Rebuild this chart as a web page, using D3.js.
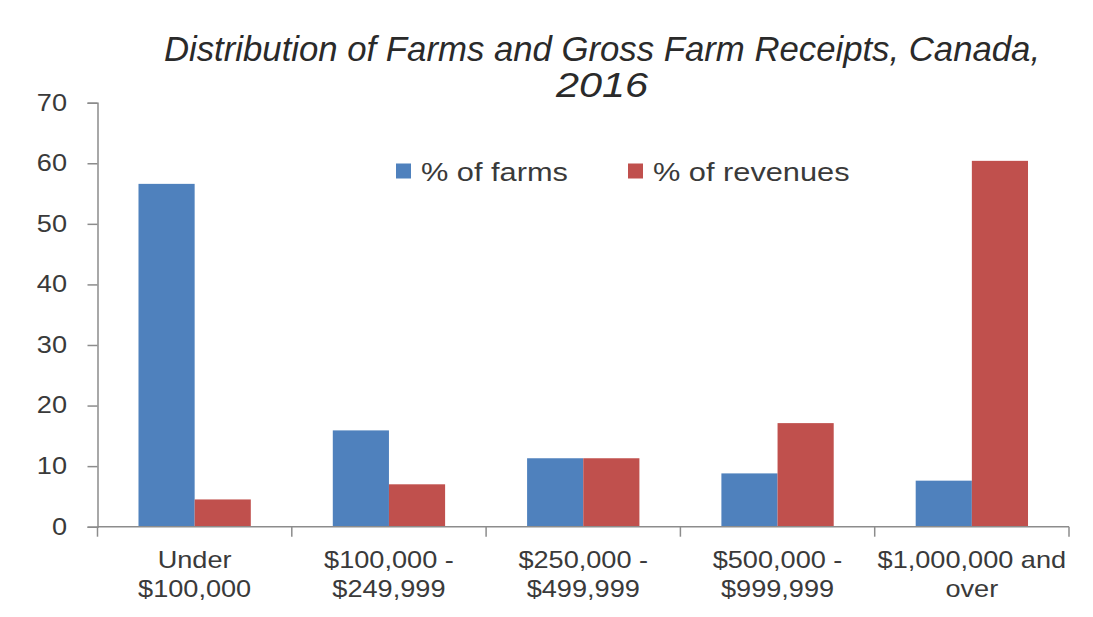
<!DOCTYPE html>
<html>
<head>
<meta charset="utf-8">
<script src="https://cdn.jsdelivr.net/npm/d3@7"></script>
<style>
  html, body { margin: 0; padding: 0; background: #ffffff; }
  svg { display: block; }
</style>
</head>
<body>
<svg id="chart" width="1093" height="617"></svg>
<script>
const categories = [["Under", "$100,000"], ["$100,000 -", "$249,999"], ["$250,000 -", "$499,999"], ["$500,000 -", "$999,999"], ["$1,000,000 and", "over"]];
const seriesNames = ["% of farms", "% of revenues"];
const farms = [56.6, 15.9, 11.3, 8.8, 7.6];
const revenues = [4.5, 7.0, 11.3, 17.1, 60.4];
const yTicks = [0, 10, 20, 30, 40, 50, 60, 70];
const colors = ["#4F81BD", "#C0504D"];
const titleLines = ["Distribution of Farms and Gross Farm Receipts, Canada,", "2016"];

(function () {
const svg = d3.select("#chart");
const W = 1093, H = 617;
svg.append("rect").attr("width", W).attr("height", H).attr("fill", "#fff");

const mLeft = 97.5, mRight = 1069, mTop = 102.7, mBottom = 526.7;
const catIdx = categories.map((d, i) => i);
const x0 = d3.scaleBand().domain(catIdx).range([mLeft, mRight]).padding(0);
const x1 = d3.scaleBand().domain([0, 1]).range([0, x0.bandwidth()]).paddingInner(0).paddingOuter(0.73);
const y = d3.scaleLinear().domain([0, 70]).range([mBottom, mTop]);

const font = "'Liberation Sans', Arial, sans-serif";
const textColor = "#3a3a3a";
const axisColor = "#8c8c8c";
const stretch = (ax, s) => `translate(${ax},0) scale(${s},1) translate(${-ax},0)`;

// bars
const data = [farms, revenues];
data.forEach((vals, s) => {
  svg.append("g").selectAll("rect").data(vals).join("rect")
    .attr("x", (d, i) => x0(i) + x1(s))
    .attr("y", d => y(d))
    .attr("width", x1.bandwidth())
    .attr("height", d => y(0) - y(d))
    .attr("fill", colors[s]);
});

// y axis
const yAxis = d3.axisLeft(y).tickValues(yTicks).tickSize(10).tickPadding(20.5).tickFormat(d3.format("d"));
const gy = svg.append("g").attr("transform", `translate(${mLeft},0)`).call(yAxis);
gy.select(".domain").attr("stroke", axisColor).attr("stroke-width", 1.5);
gy.selectAll(".tick line").attr("stroke", axisColor).attr("stroke-width", 1.5);
gy.selectAll(".tick text").attr("font-family", font).attr("font-size", 23).attr("fill", textColor)
  .attr("transform", stretch(-30.5, 1.18));

// x axis
const xBounds = d3.scaleLinear().domain([0, categories.length]).range([mLeft, mRight]);
const gx = svg.append("g");
gx.append("line").attr("x1", mLeft).attr("x2", mRight).attr("y1", mBottom).attr("y2", mBottom)
  .attr("stroke", axisColor).attr("stroke-width", 1.5);
gx.selectAll("line.tk").data(d3.range(categories.length + 1)).join("line").attr("class", "tk")
  .attr("x1", d => xBounds(d)).attr("x2", d => xBounds(d))
  .attr("y1", mBottom).attr("y2", mBottom + 10)
  .attr("stroke", axisColor).attr("stroke-width", 1.5);
const lbl = gx.selectAll("text").data(categories).join("text")
  .attr("font-family", font).attr("font-size", 23).attr("fill", textColor)
  .attr("text-anchor", "middle");
lbl.each(function(d, i) {
  const t = d3.select(this);
  const cx = x0(i) + x0.bandwidth() / 2;
  t.attr("transform", stretch(cx, 1.18));
  d.forEach((line, k) => {
    t.append("tspan").attr("x", cx).attr("y", 568 + k * 29).text(line);
  });
});

// title
const titleScale = [0.965, 1.15];
titleLines.forEach((line, k) => {
  svg.append("text").attr("text-anchor", "middle")
    .attr("font-family", font)
    .attr("font-style", "italic").attr("font-size", 36).attr("fill", "#2a2a2a")
    .attr("x", 602).attr("y", 61 + k * 36)
    .attr("transform", stretch(602, titleScale[k]))
    .text(line);
});

// legend
const legendX = [396, 628];
seriesNames.forEach((name, s) => {
  const g = svg.append("g").attr("transform", `translate(${legendX[s]},163.5)`);
  g.append("rect").attr("width", 15).attr("height", 15).attr("fill", colors[s]);
  g.append("text").attr("x", 25).attr("y", 17.5).attr("font-family", font).attr("font-size", 25)
    .attr("fill", textColor).attr("transform", stretch(25, 1.23)).text(name);
});
})();
</script>
</body>
</html>
